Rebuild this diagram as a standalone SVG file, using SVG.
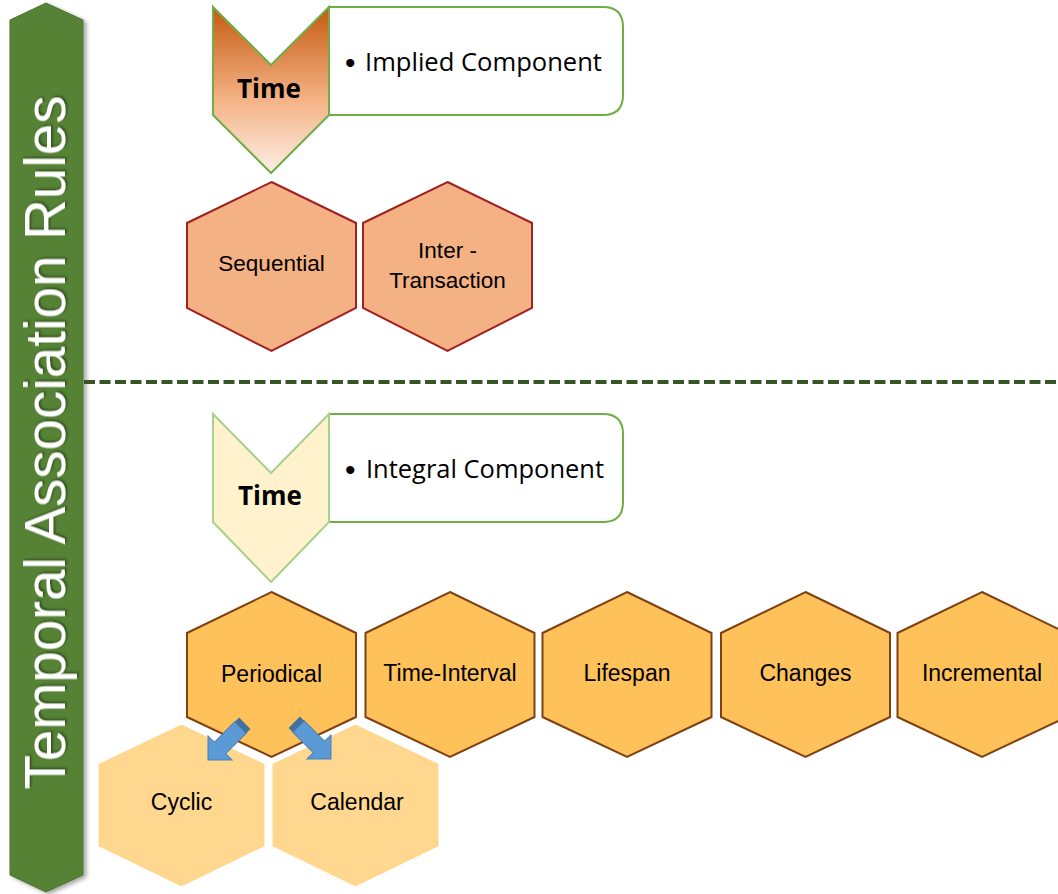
<svg xmlns="http://www.w3.org/2000/svg" width="1058" height="894" viewBox="0 0 1058 894">
<defs>
<linearGradient id="gradTime" x1="0" y1="0" x2="0" y2="1">
<stop offset="0" stop-color="#c55a11"/>
<stop offset="0.55" stop-color="#f4b183"/>
<stop offset="1" stop-color="#fdefe6"/>
</linearGradient>
<filter id="shadow" x="-20%" y="-5%" width="150%" height="110%">
<feDropShadow dx="3" dy="2" stdDeviation="2" flood-color="#000" flood-opacity="0.35"/>
</filter>
<filter id="tshadow" x="-10%" y="-10%" width="130%" height="130%">
<feDropShadow dx="1.5" dy="1.5" stdDeviation="1" flood-color="#000" flood-opacity="0.45"/>
</filter>
<g id="arrowShape">
<path d="M0,0 L-17,-17 L-17,-8 L-46,-8 L-46,8 L-17,8 L-17,17 Z" fill="#5b9bd5" stroke="#4a7ebb" stroke-width="1"/>
<path d="M-46,-8 L-52,-8 L-52,8 L-46,8 Z" fill="#41719c"/>
</g>
</defs>
<style>
.hexTop{fill:#f4b183;stroke:#a0211f;stroke-width:2;}
.hexMain{fill:#ffc15a;stroke:#7f4012;stroke-width:2;}
.hexSub{fill:#ffd78f;stroke:#ffffff;stroke-width:3;}
.lbl{font-family:"Liberation Sans",Arial,sans-serif;fill:#000;text-anchor:middle;}
.lblTop{font-size:22.5px;}
.lblMain{font-size:23px;}
.timeTxt{font-family:"Open Sans","Liberation Sans",sans-serif;font-weight:bold;font-size:26px;fill:#000;text-anchor:middle;}
.bullet{font-family:"Open Sans","Liberation Sans",sans-serif;font-size:25px;fill:#000;}
.dot{font-family:"Liberation Sans",Arial,sans-serif;font-size:30px;fill:#000;}
.box{fill:#ffffff;stroke:#70ad47;stroke-width:2;}
</style>
<rect x="0" y="0" width="1058" height="894" fill="#ffffff"/>

<g id="sidebar">
<path d="M46,3 L83,20 L83,875 L46,892 L10,875 L10,20 Z" fill="#548235" stroke="#4a7530" stroke-width="1" filter="url(#shadow)"/>
<text x="0" y="0" transform="translate(65,442.5) rotate(-90)" font-family="'Liberation Sans',Arial,sans-serif" font-size="56.5" fill="#ffffff" text-anchor="middle" filter="url(#tshadow)">Temporal Association Rules</text>
</g>

<g id="separator">
<line x1="84" y1="382" x2="1058" y2="382" stroke="#375623" stroke-width="4" stroke-dasharray="11 4.5"/>
</g>

<g id="implied-box">
<path class="box" d="M329,7 L603,7 Q623,7 623,27 L623,95 Q623,115 603,115 L329,115 Z"/>
<text class="dot" x="345" y="73">•</text>
<text class="bullet" x="365" y="71" textLength="237" lengthAdjust="spacingAndGlyphs">Implied Component</text>
</g>
<g id="time-implied">
<path d="M213,7 L271,65 L329,7 L329,115 L271,173 L213,115 Z" fill="url(#gradTime)" stroke="#70ad47" stroke-width="2"/>
<text class="timeTxt" x="269" y="98">Time</text>
</g>

<g id="sequential">
<path class="hexTop" d="M271.5,182 L356,223 L356,308 L271.5,351 L187,308 L187,223 Z"/>
<text class="lbl lblTop" x="271.5" y="271">Sequential</text>
</g>
<g id="inter-transaction">
<path class="hexTop" d="M447.5,182 L532,223 L532,308 L447.5,351 L363,308 L363,223 Z"/>
<text class="lbl lblTop" x="447.5" y="258">Inter -</text>
<text class="lbl lblTop" x="447.5" y="288">Transaction</text>
</g>

<g id="integral-box">
<path class="box" d="M329,414 L603,414 Q623,414 623,434 L623,502 Q623,522 603,522 L329,522 Z"/>
<text class="dot" x="345" y="480">•</text>
<text class="bullet" x="366" y="478" textLength="238" lengthAdjust="spacingAndGlyphs">Integral Component</text>
</g>
<g id="time-integral">
<path d="M213,414 L271,473 L329,414 L329,522 L271,582 L213,522 Z" fill="#fff2cc" stroke="#a9d18e" stroke-width="2"/>
<text class="timeTxt" x="270" y="505">Time</text>
</g>

<g id="periodical">
<path class="hexMain" d="M271.5,592 L356,633 L356,717 L271.5,757 L187,717 L187,633 Z"/>
<text class="lbl lblMain" x="271.5" y="682">Periodical</text>
</g>
<g id="time-interval">
<path class="hexMain" d="M450,592 L534.5,633 L534.5,717 L450,757 L365.5,717 L365.5,633 Z"/>
<text class="lbl lblMain" x="450" y="681">Time-Interval</text>
</g>
<g id="lifespan">
<path class="hexMain" d="M627,592 L711.5,633 L711.5,717 L627,757 L542.5,717 L542.5,633 Z"/>
<text class="lbl lblMain" x="627" y="681">Lifespan</text>
</g>
<g id="changes">
<path class="hexMain" d="M805.5,592 L890,633 L890,717 L805.5,757 L721,717 L721,633 Z"/>
<text class="lbl lblMain" x="805.5" y="681">Changes</text>
</g>
<g id="incremental">
<path class="hexMain" d="M982,592 L1066.5,633 L1066.5,717 L982,757 L897.5,717 L897.5,633 Z"/>
<text class="lbl lblMain" x="982" y="681">Incremental</text>
</g>

<g id="cyclic">
<path class="hexSub" d="M181.5,723 L266,763 L266,847 L181.5,888 L97,847 L97,763 Z"/>
<text class="lbl lblMain" x="181.5" y="810">Cyclic</text>
</g>
<g id="calendar">
<path class="hexSub" d="M355.5,723 L440,763 L440,847 L355.5,888 L271,847 L271,763 Z"/>
<text class="lbl lblMain" x="357" y="810">Calendar</text>
</g>

<g id="connectors">
<use href="#arrowShape" transform="translate(208,760) rotate(135)"/>
<use href="#arrowShape" transform="translate(331,759) rotate(45)"/>
</g>
</svg>
